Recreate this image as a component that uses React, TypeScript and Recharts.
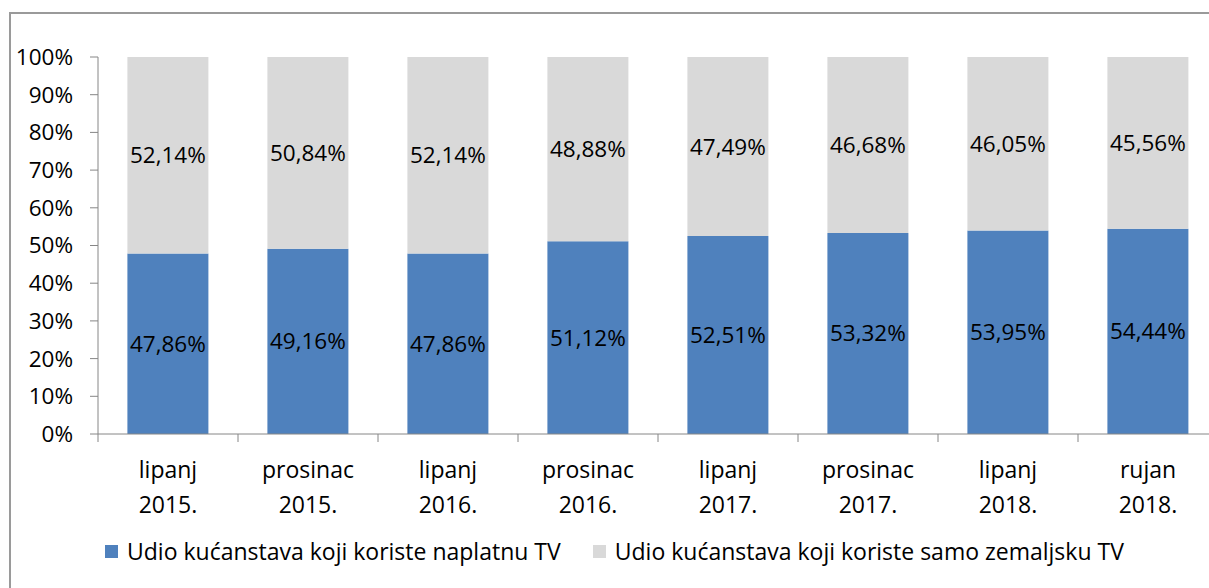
import React from 'react';
import { BarChart, Bar, XAxis, YAxis, LabelList } from 'recharts';

const categories = ['lipanj 2015.', 'prosinac 2015.', 'lipanj 2016.', 'prosinac 2016.', 'lipanj 2017.', 'prosinac 2017.', 'lipanj 2018.', 'rujan 2018.'];
const paidTV = [47.86, 49.16, 47.86, 51.12, 52.51, 53.32, 53.95, 54.44];
const terrestrialTV = [52.14, 50.84, 52.14, 48.88, 47.49, 46.68, 46.05, 45.56];
const yTicks = [0, 10, 20, 30, 40, 50, 60, 70, 80, 90, 100];
const seriesNames = ['Udio kućanstava koji koriste naplatnu TV', 'Udio kućanstava koji koriste samo zemaljsku TV'];
const seriesColors = ['#4F81BD', '#D9D9D9'];

const data = categories.map((c, i) => ({ name: c, paid: paidTV[i], terr: terrestrialTV[i] }));

const FONT = '"Open Sans", "Noto Sans", sans-serif';
const fmt = (v: number) => v.toFixed(2).replace('.', ',') + '%';

const XTick = (props: any) => {
  const { x, y, payload } = props;
  const off = payload.offset || 0;
  const lines = String(payload.value).split(' ');
  return (
    <g>
      <line x1={x - off} y1={y - 8} x2={x - off} y2={y} stroke="#868686" strokeWidth={1} />
      <text x={x} y={y} textAnchor="middle" fontSize={23} fontFamily={FONT} fill="#000">
        {lines.map((l, i) => (
          <tspan key={i} x={x} dy={i === 0 ? 36 : 35}>{l}</tspan>
        ))}
      </text>
    </g>
  );
};

export default function App() {
  return (
    <div style={{ position: 'absolute', left: 0, top: 0, width: 1209, height: 588, overflow: 'hidden', background: '#fff' }}>
      <div style={{ position: 'absolute', left: 9, top: 12, width: 1240, height: 620, border: '2px solid #9a9a9a', boxSizing: 'border-box' }} />
      <div style={{ position: 'absolute', left: 0, top: 0 }}>
        <BarChart width={1240} height={588} data={data} margin={{ top: 57, right: 22, left: 10, bottom: 54 }} barCategoryGap="21%">
          <YAxis
            type="number"
            domain={[0, 100]}
            ticks={yTicks}
            interval={0}
            width={88}
            tickSize={8}
            tickMargin={17}
            tickFormatter={(v: number) => `${v}%`}
            axisLine={{ stroke: '#868686' }}
            tickLine={{ stroke: '#868686' }}
            tick={{ fontSize: 22.5, fontFamily: FONT, fill: '#000' }}
          />
          <XAxis
            dataKey="name"
            height={100}
            interval={0}
            tickSize={8}
            tickMargin={0}
            tickLine={false}
            axisLine={{ stroke: '#868686' }}
            tick={<XTick />}
          />
          <Bar dataKey="paid" stackId="a" fill={seriesColors[0]} isAnimationActive={false}>
            <LabelList dataKey="paid" position="center" formatter={fmt as any} style={{ fontSize: 22.5, fontFamily: FONT, fill: '#000' }} />
          </Bar>
          <Bar dataKey="terr" stackId="a" fill={seriesColors[1]} isAnimationActive={false}>
            <LabelList dataKey="terr" position="center" formatter={fmt as any} style={{ fontSize: 22.5, fontFamily: FONT, fill: '#000' }} />
          </Bar>
        </BarChart>
      </div>
      <div style={{ position: 'absolute', left: 105, top: 535, display: 'flex', alignItems: 'center', fontFamily: FONT, fontSize: 23, color: '#000' }}>
        {seriesNames.map((n, i) => (
          <div key={n} style={{ display: 'flex', alignItems: 'center', marginRight: i === 0 ? 32 : 0 }}>
            <div style={{ width: 13, height: 13, background: seriesColors[i], marginRight: 9 }} />
            <span>{n}</span>
          </div>
        ))}
      </div>
    </div>
  );
}
